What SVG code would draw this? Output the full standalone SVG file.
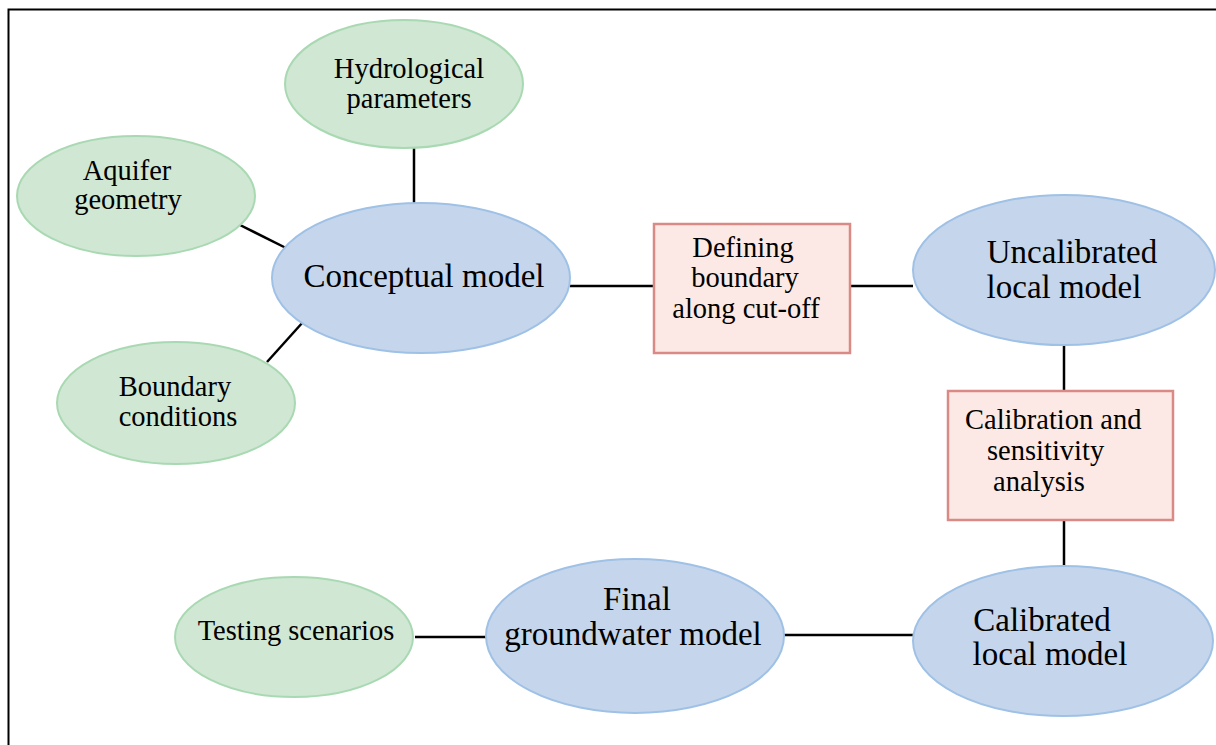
<svg xmlns="http://www.w3.org/2000/svg" width="1216" height="745" viewBox="0 0 1216 745">
<style>
.g{fill:#cfe7d3;stroke:#a9d9b2;stroke-width:2}
.b{fill:#c5d6ec;stroke:#9fc1e6;stroke-width:2}
.p{fill:#fce9e5;stroke:#d98a84;stroke-width:2.5}
text{font-family:"Liberation Serif","Times New Roman",serif;fill:#000;text-anchor:middle}
.s{font-size:28.5px}
.l{font-size:33px}
.c line{stroke:#000;stroke-width:2.5}
</style>
<rect width="1216" height="745" fill="#fff"/>
<path d="M8.5 745 V9.5 H1216" fill="none" stroke="#000" stroke-width="2"/>
<g class="c" id="connectors">
<line x1="414" y1="148" x2="414" y2="203"/>
<line x1="238" y1="224" x2="286" y2="248"/>
<line x1="267" y1="362" x2="303" y2="322"/>
<line x1="570" y1="286" x2="654" y2="286"/>
<line x1="850" y1="286" x2="913" y2="286"/>
<line x1="1064" y1="345" x2="1064" y2="391"/>
<line x1="1064" y1="520" x2="1064" y2="566"/>
<line x1="784" y1="635" x2="913" y2="635"/>
<line x1="415" y1="637" x2="486" y2="637"/>
</g>
<g id="hydro"><ellipse class="g" cx="404" cy="84" rx="119" ry="64"/><text class="s" x="409" y="78">Hydrological</text><text class="s" x="409" y="108">parameters</text></g>
<g id="aquifer"><ellipse class="g" cx="136" cy="196" rx="119" ry="60"/><text class="s" x="127" y="180">Aquifer</text><text class="s" x="128" y="209">geometry</text></g>
<g id="conceptual"><ellipse class="b" cx="421" cy="278" rx="149" ry="75"/><text class="l" x="424" y="287">Conceptual model</text></g>
<g id="boundary"><ellipse class="g" cx="176" cy="403" rx="119" ry="61"/><text class="s" x="175" y="396">Boundary</text><text class="s" x="178" y="426">conditions</text></g>
<g id="defining"><rect class="p" x="654" y="224" width="196" height="129"/><text class="s" x="743" y="257">Defining</text><text class="s" x="745" y="287">boundary</text><text class="s" x="746" y="318">along cut-off</text></g>
<g id="uncalibrated"><ellipse class="b" cx="1064" cy="270" rx="151" ry="75"/><text class="l" x="1072" y="263">Uncalibrated</text><text class="l" x="1064" y="298">local model</text></g>
<g id="calibration"><rect class="p" x="948" y="391" width="225" height="129"/><text class="s" x="965" y="429" style="text-anchor:start">Calibration and</text><text class="s" x="987" y="460" style="text-anchor:start">sensitivity</text><text class="s" x="993" y="491" style="text-anchor:start">analysis</text></g>
<g id="calibrated"><ellipse class="b" cx="1063" cy="641" rx="150" ry="75"/><text class="l" x="1042" y="631">Calibrated</text><text class="l" x="1050" y="665">local model</text></g>
<g id="final"><ellipse class="b" cx="635" cy="636" rx="149" ry="77"/><text class="l" x="637" y="610">Final</text><text class="l" x="633" y="645">groundwater model</text></g>
<g id="testing"><ellipse class="g" cx="294" cy="637" rx="119" ry="60"/><text class="s" x="296" y="640">Testing scenarios</text></g>
</svg>
